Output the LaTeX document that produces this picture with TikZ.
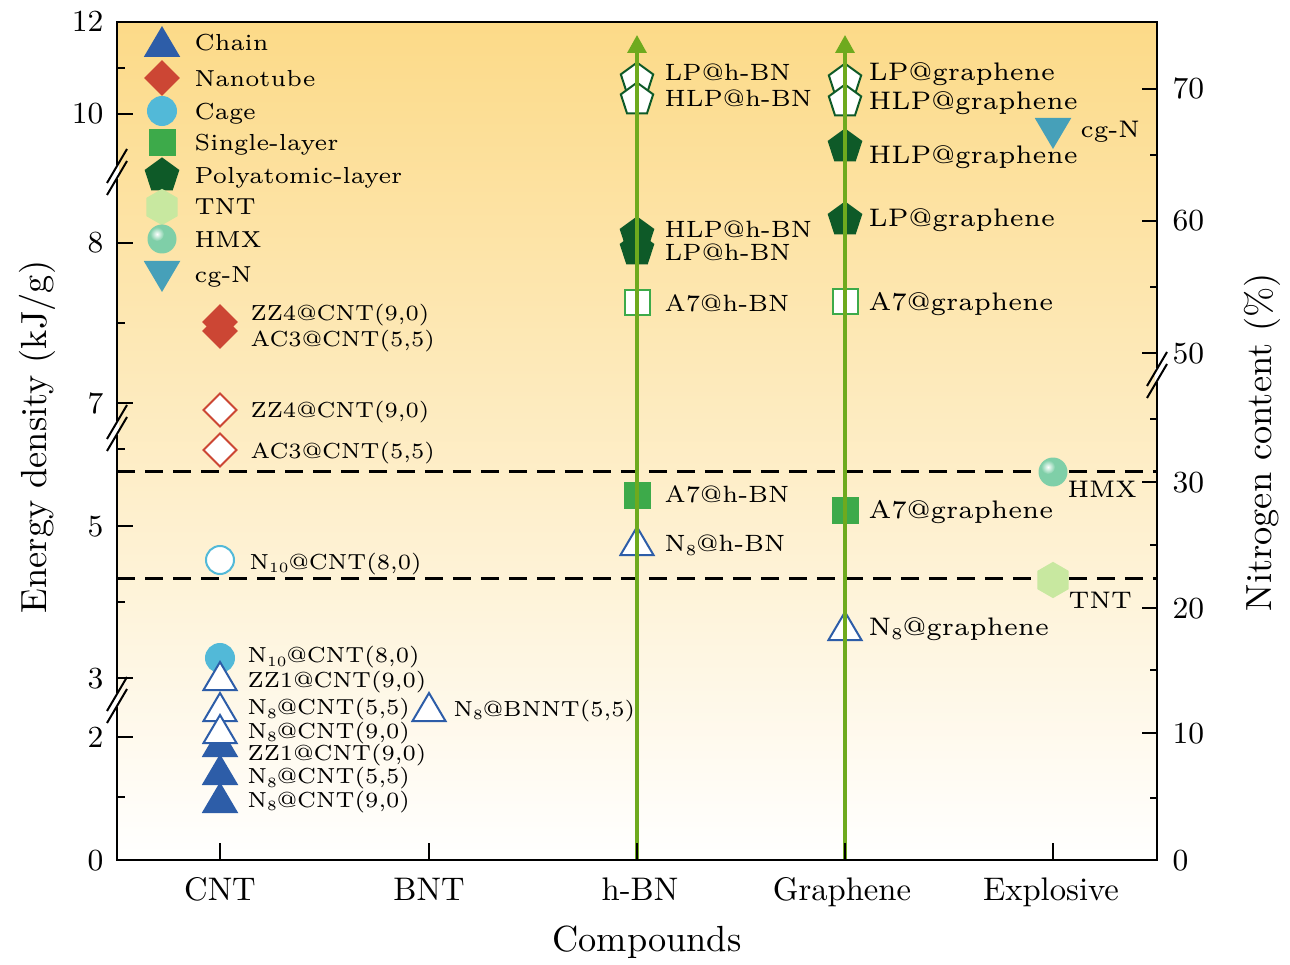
\documentclass[tikz,border=0pt]{standalone}
\usepackage{graphicx}
\usetikzlibrary{arrows.meta}
\definecolor{bgtop}{RGB}{252,218,136}
\definecolor{chainc}{RGB}{45,93,168}
\definecolor{nanoc}{RGB}{204,70,52}
\definecolor{cagec}{RGB}{82,185,216}
\definecolor{singlec}{RGB}{61,170,74}
\definecolor{polyc}{RGB}{14,90,40}
\definecolor{tntc}{RGB}{200,232,160}
\definecolor{hmxc}{RGB}{127,207,168}
\definecolor{cgnc}{RGB}{70,160,185}
\definecolor{arrowc}{RGB}{110,170,30}
\newcommand{\dl}[2][1.2]{\scalebox{#1}{\fontsize{6}{7.2}\selectfont #2}}
\newcommand{\sbs}[1]{\raisebox{-1.1pt}{\fontsize{3.9}{4.5}\selectfont #1}}
\newcommand{\ticknum}{\fontsize{9.2}{11}\selectfont}
\newcommand{\catfont}{\fontsize{9.8}{12}\selectfont}
\newcommand{\titlefont}{\fontsize{10.9}{13}\selectfont}
\newcommand{\brk}[2]{%
  \draw[white,line width=1.4pt] (#1,#2-7)--(#1,#2+7);
  \draw[line width=0.6pt] (#1-10,#2+11)--(#1+10,#2-23);
  \draw[line width=0.6pt] (#1-10,#2+23)--(#1+10,#2-11);}
\tikzset{
 mk/.style={line width=0.6pt, line join=miter},
 pics/tri/.style 2 args={code={\path[mk,fill=#1,draw=#2] (0,-14)--(16.5,14)--(-16.5,14)--cycle;}},
 pics/itri/.style 2 args={code={\path[mk,fill=#1,draw=#2] (0,14)--(16.5,-14)--(-16.5,-14)--cycle;}},
 pics/dia/.style 2 args={code={\path[mk,fill=#1,draw=#2] (0,-16.5)--(16.5,0)--(0,16.5)--(-16.5,0)--cycle;}},
 pics/sq/.style 2 args={code={\path[mk,fill=#1,draw=#2] (-12.5,-12.5) rectangle (12.5,12.5);}},
 pics/circ/.style 2 args={code={\path[mk,fill=#1,draw=#2] (0,0) circle (14);}},
 pics/pent/.style 2 args={code={\path[mk,fill=#1,draw=#2,shift={(0,1.6)}] (-90:17)--(-18:17)--(54:17)--(126:17)--(198:17)--cycle;}},
 pics/hex/.style 2 args={code={\path[mk,fill=#1,draw=#2] (-90:17)--(-30:17)--(30:17)--(90:17)--(150:17)--(210:17)--cycle;}},
 pics/ball/.style={code={\fill[hmxc] (0,0) circle (14.5); \shade[inner color=white, outer color=hmxc] (-5,-5) circle (7);}},
 lbl/.style={anchor=base west, inner sep=0pt},
 dline/.style={line width=0.9pt, dash pattern=on 5.4pt off 3pt},
 garrow/.style={arrowc, line width=1pt, -{Triangle[width=5.7pt,length=5.4pt]}},
 tk/.style={line width=0.6pt},
 ynum/.style={anchor=base east, inner sep=0pt, font=\ticknum},
 rnum/.style={anchor=base west, inner sep=0pt, font=\ticknum},
 cat/.style={anchor=base, inner sep=0pt, font=\catfont},
}
\begin{document}
\begin{tikzpicture}[x=0.3pt,y=-0.3pt]
\useasboundingbox (0,0) rectangle (1290,965);
% background
\shade[top color=bgtop, bottom color=white] (117,22) rectangle (1157,860);
% dashed reference lines
\coordinate (d1a) at (117,471); \coordinate (d1b) at (1157,471);
\coordinate (d2a) at (117,578); \coordinate (d2b) at (1157,578);
\draw[dline] (d1a) -- (d1b);
\draw[dline] (d2a) -- (d2b);
% legend markers
\pic (lg1) at (162,42) {tri={chainc}{chainc}};
\pic (lg2) at (162,78) {dia={nanoc}{nanoc}};
\pic (lg3) at (162,111) {circ={cagec}{cagec}};
\pic (lg4) at (162,142.5) {sq={singlec}{singlec}};
\pic (lg5) at (162,174) {pent={polyc}{polyc}};
\pic (lg6) at (162,207) {hex={tntc}{tntc}};
\pic (lg7) at (162,239) {ball};
\pic (lg8) at (162,276) {itri={cgnc}{cgnc}};
% CNT column
\pic (c1) at (220,322) {dia={nanoc}{nanoc}};
\pic (c2) at (220,331) {dia={nanoc}{nanoc}};
\pic (c3) at (220,410) {dia={white}{nanoc}};
\pic (c4) at (220,450) {dia={white}{nanoc}};
\pic (c5) at (220,560) {circ={white}{cagec}};
\pic (c6) at (220,658) {circ={cagec}{cagec}};
\pic (c7) at (220,742) {tri={chainc}{chainc}};
\pic (c8) at (220,770) {tri={chainc}{chainc}};
\pic (c9) at (220,798) {tri={chainc}{chainc}};
\pic (c10) at (220,676) {tri={white}{chainc}};
\pic (c11) at (220,707) {tri={white}{chainc}};
\pic (c12) at (220,729) {tri={white}{chainc}};
% BNT
\pic (b1) at (429,707) {tri={white}{chainc}};
% h-BN
\pic (h1) at (637,78) {pent={white}{polyc}};
\pic (h2) at (637,98) {pent={white}{polyc}};
\pic (h3) at (637,233) {pent={polyc}{polyc}};
\pic (h4) at (637,248) {pent={polyc}{polyc}};
\pic (h5) at (637,303) {sq={white}{singlec}};
\pic (h6) at (637,495) {sq={singlec}{singlec}};
\pic (h7) at (637,541) {tri={white}{chainc}};
% graphene
\pic (g1) at (845,79) {pent={white}{polyc}};
\pic (g2) at (845,100) {pent={white}{polyc}};
\pic (g3) at (845,145) {pent={polyc}{polyc}};
\pic (g4) at (845,218) {pent={polyc}{polyc}};
\pic (g5) at (845,302) {sq={white}{singlec}};
\pic (g6) at (845,510) {sq={singlec}{singlec}};
\pic (g7) at (845,626) {tri={white}{chainc}};
% explosives
\pic (e1) at (1053,133) {itri={cgnc}{cgnc}};
\pic (e2) at (1053,472) {ball};
\pic (e3) at (1053,580) {hex={tntc}{tntc}};
% green arrows
\coordinate (ha0) at (637,860); \coordinate (ha1) at (637,35);
\coordinate (ga0) at (845,860); \coordinate (ga1) at (845,35);
\draw[garrow] (ha0) -- (ha1);
\draw[garrow] (ga0) -- (ga1);
% frame
\draw[line width=0.7pt] (117,22) rectangle (1157,860);
% left ticks
\foreach \yy in {22,114,243,403,526,678,737,860} \draw[tk] (117,\yy) -- ++(16,0);
\foreach \yy in {68,323,449,602,797} \draw[tk] (117,\yy) -- ++(8,0);
% right ticks
\foreach \yy in {89,221,353,482,608,733,860} \draw[tk] (1157,\yy) -- ++(-15,0);
\foreach \yy in {155,287,419,545,670,798} \draw[tk] (1157,\yy) -- ++(-7,0);
% bottom ticks
\foreach \xx in {220,429,637,845,1053} \draw[tk] (\xx,860) -- ++(0,-17);
% axis breaks
\brk{117}{172}
\brk{117}{428}
\brk{117}{700}
\brk{1157}{375}
% left tick labels
\node[ynum] (yl12) at (104,32) {12};
\node[ynum] (yl10) at (104,124) {10};
\node[ynum] (yl8) at (104,253) {8};
\node[ynum] (yl7) at (104,413) {7};
\node[ynum] (yl5) at (104,536) {5};
\node[ynum] (yl3) at (104,688) {3};
\node[ynum] (yl2) at (104,747) {2};
\node[ynum] (yl0) at (104,870) {0};
% right tick labels
\node[rnum] (yr70) at (1172,99) {70};
\node[rnum] (yr60) at (1172,231) {60};
\node[rnum] (yr50) at (1172,363) {50};
\node[rnum] (yr30) at (1172,492) {30};
\node[rnum] (yr20) at (1172,618) {20};
\node[rnum] (yr10) at (1172,743) {10};
\node[rnum] (yr0) at (1172,870) {0};
% category labels
\node[cat] (x1) at (220,900) {CNT};
\node[cat] (x2) at (429,900) {BNT};
\node[cat] (x3) at (640,900) {h-BN};
\node[cat] (x4) at (842,900) {Graphene};
\node[cat] (x5) at (1051,900) {Explosive};
% axis titles
\node[font=\titlefont, inner sep=0pt] (xt) at (647,942) {Compounds};
\node[font=\titlefont, inner sep=0pt, rotate=90] (ylt) at (37,437) {Energy density (kJ/g)};
\node[font=\titlefont, inner sep=0pt, rotate=90] (yrt) at (1262,442) {Nitrogen content (\%)};
% legend labels
\node[lbl] (lt1) at (194,51) {\dl[1.16]{Chain}};
\node[lbl] (lt2) at (194,87) {\dl[1.16]{Nanotube}};
\node[lbl] (lt3) at (194,120) {\dl[1.16]{Cage}};
\node[lbl] (lt4) at (194,151) {\dl[1.16]{Single-layer}};
\node[lbl] (lt5) at (194,184) {\dl[1.16]{Polyatomic-layer}};
\node[lbl] (lt6) at (194,215) {\dl[1.16]{TNT}};
\node[lbl] (lt7) at (194,248) {\dl[1.16]{HMX}};
\node[lbl] (lt8) at (194,283) {\dl[1.16]{cg-N}};
% CNT labels
\node[lbl] (cl1) at (250,321) {\dl[1.09]{ZZ4@CNT(9,0)}};
\node[lbl] (cl2) at (250,347) {\dl[1.09]{AC3@CNT(5,5)}};
\node[lbl] (cl3) at (250,418) {\dl[1.09]{ZZ4@CNT(9,0)}};
\node[lbl] (cl4) at (250,458) {\dl[1.09]{AC3@CNT(5,5)}};
\node[lbl] (cl5) at (249,569) {\dl[1.09]{N\sbs{10}@CNT(8,0)}};
\node[lbl] (cl6) at (247,662) {\dl[1.09]{N\sbs{10}@CNT(8,0)}};
\node[lbl] (cl7) at (247,687) {\dl[1.09]{ZZ1@CNT(9,0)}};
\node[lbl] (cl8) at (247,714) {\dl[1.09]{N\sbs{8}@CNT(5,5)}};
\node[lbl] (cl9) at (247,738) {\dl[1.09]{N\sbs{8}@CNT(9,0)}};
\node[lbl] (cl10) at (247,760) {\dl[1.09]{ZZ1@CNT(9,0)}};
\node[lbl] (cl11) at (247,783) {\dl[1.09]{N\sbs{8}@CNT(5,5)}};
\node[lbl] (cl12) at (247,807) {\dl[1.09]{N\sbs{8}@CNT(9,0)}};
\node[lbl] (bl1) at (453,716) {\dl[1.09]{N\sbs{8}@BNNT(5,5)}};
% h-BN labels
\node[lbl] (hl1) at (664,81) {\dl[1.18]{LP@h-BN}};
\node[lbl] (hl2) at (664,107) {\dl[1.18]{HLP@h-BN}};
\node[lbl] (hl3) at (664,238) {\dl[1.18]{HLP@h-BN}};
\node[lbl] (hl4) at (664,261) {\dl[1.18]{LP@h-BN}};
\node[lbl] (hl5) at (664,311) {\dl[1.18]{A7@h-BN}};
\node[lbl] (hl6) at (664,502) {\dl[1.18]{A7@h-BN}};
\node[lbl] (hl7) at (664,551) {\dl[1.18]{N\sbs{8}@h-BN}};
% graphene labels
\node[lbl] (gl1) at (868,81) {\dl[1.27]{LP@graphene}};
\node[lbl] (gl2) at (868,110) {\dl[1.27]{HLP@graphene}};
\node[lbl] (gl3) at (868,164) {\dl[1.27]{HLP@graphene}};
\node[lbl] (gl4) at (868,227) {\dl[1.27]{LP@graphene}};
\node[lbl] (gl5) at (868,310) {\dl[1.27]{A7@graphene}};
\node[lbl] (gl6) at (868,518) {\dl[1.27]{A7@graphene}};
\node[lbl] (gl7) at (868,635) {\dl[1.27]{N\sbs{8}@graphene}};
% explosive labels
\node[lbl] (el1) at (1080,138) {\dl{cg-N}};
\node[lbl] (el2) at (1067,498) {\dl{HMX}};
\node[lbl] (el3) at (1068,608) {\dl{TNT}};
\end{tikzpicture}
\end{document}
